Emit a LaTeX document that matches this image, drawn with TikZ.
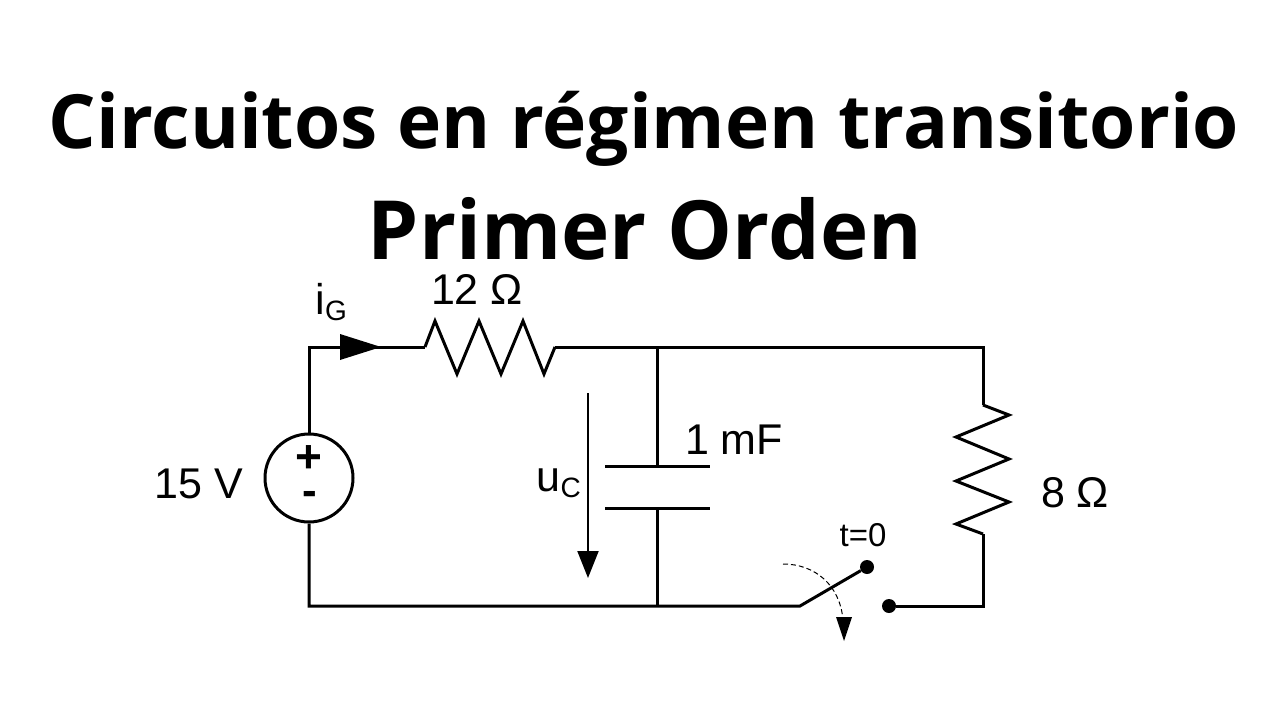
\documentclass[tikz,border=0pt]{standalone}
\usepackage{fontspec}
\setmainfont{Liberation Sans}
\newfontfamily\titlefont{Open Sans}
\usetikzlibrary{arrows.meta}
\tikzset{
  wire/.style={line width=3pt,line join=miter},
  label/.style={inner sep=0pt,font=\fontsize{43}{45}\selectfont},
  heading/.style={inner sep=0pt,font=\titlefont\bfseries\fontsize{#1}{#1}\selectfont},
  sub/.style={inner sep=0pt,font=\fontsize{28}{30}\selectfont},
  dot/.style={circle,fill=black,inner sep=0pt,minimum size=14pt},
  source/.style={circle,draw,line width=3pt,inner sep=0pt,minimum size=88pt},
  tip/.style={-{Triangle[length=#1,width=21pt]}}
}
\begin{document}
\begin{tikzpicture}[x=1pt,y=-1pt]
  \useasboundingbox (0,0) rectangle (1280,720);
  \node[heading=74.8] (title) at (644,129) {Circuitos en régimen transitorio};
  \node[heading=81.7] (order) at (645,229) {Primer Orden};

  \coordinate (tl) at (309,347);
  \coordinate (bl) at (309,606);
  \coordinate (tr) at (983,347);
  \coordinate (br) at (983,606);
  \coordinate (ctop) at (657,347);
  \coordinate (cbot) at (657,606);
  \coordinate (rin) at (425,347);
  \coordinate (rout) at (555,347);
  \coordinate (sin) at (983,405);
  \coordinate (sout) at (983,534);
  \coordinate (platea) at (657,466);
  \coordinate (plateb) at (657,508);
  \coordinate (hinge) at (800,606);

  \node[source] (vg) at (309,478) {};
  \node[dot] (swa) at (867,567) {};
  \node[dot] (swb) at (889,606) {};

  % outer loop
  \draw[wire] (vg) -- (tl) -- (rin);
  \draw[wire] (rin) -- ++(10,-26) -- ++(22,53) -- ++(22,-53) -- ++(22,53)
              -- ++(22,-53) -- ++(21,53) -- (rout);
  \draw[wire] (rout) -- (tr) -- (sin);
  \draw[wire] (sin) -- ++(26,10) -- ++(-53,22) -- ++(53,22) -- ++(-53,22)
              -- ++(53,21) -- ++(-53,22) -- (sout);
  \draw[wire] (sout) -- (br) -- (swb);
  \draw[wire] (vg) -- (bl) -- (hinge) -- (swa);

  % capacitor
  \draw[wire] (ctop) -- (platea);
  \draw[wire] (plateb) -- (cbot);
  \draw[wire] (605,466) -- (710,466);
  \draw[wire] (605,508) -- (710,508);

  % current and voltage arrows
  \coordinate (iga) at (340,347);
  \coordinate (igb) at (381,347);
  \fill (iga) ++(0,-13) -- (igb) -- ++(-41,13) -- cycle;
  \coordinate (uca) at (588,393);
  \coordinate (ucb) at (588,578);
  \draw[line width=2pt,tip=27pt] (uca) -- (ucb);

  % switch motion
  \coordinate (arca) at (783,564);
  \coordinate (arcb) at (843,620);
  \coordinate (arcc) at (844,641);
  \draw[line width=1pt,dash pattern=on 5pt off 3pt] (arca) .. controls (815,564) and (840,585) .. (arcb);
  \fill (836,617) -- (852,617) -- (arcc) -- cycle;

  \node[label,anchor=base west] (igl) at (315,314) {i};
  \node[sub,anchor=base west] (igs) at ([yshift=-6pt]igl.base east) {G};
  \node[label,anchor=base] (rl) at (477,304) {12 Ω};
  \node[label,anchor=base] (vl) at (199,498) {15 V};
  \node[label,anchor=base] (cl) at (734,454) {1 mF};
  \node[label,anchor=base] (rrl) at (1075,507) {8 Ω};
  \node[label,anchor=base west] (ucl) at (536,491) {u};
  \node[sub,anchor=base west] (ucs) at ([yshift=-6pt]ucl.base east) {C};
  \node[inner sep=0pt,anchor=base,font=\fontsize{33}{35}\selectfont] (tl0) at (863,546) {t=0};
  \node[inner sep=0pt,font=\bfseries\fontsize{46}{46}\selectfont] (plus) at (309,459) {+};
  \node[inner sep=0pt,font=\bfseries\fontsize{44}{44}\selectfont] (minus) at (310,498) {-};
\end{tikzpicture}
\end{document}
